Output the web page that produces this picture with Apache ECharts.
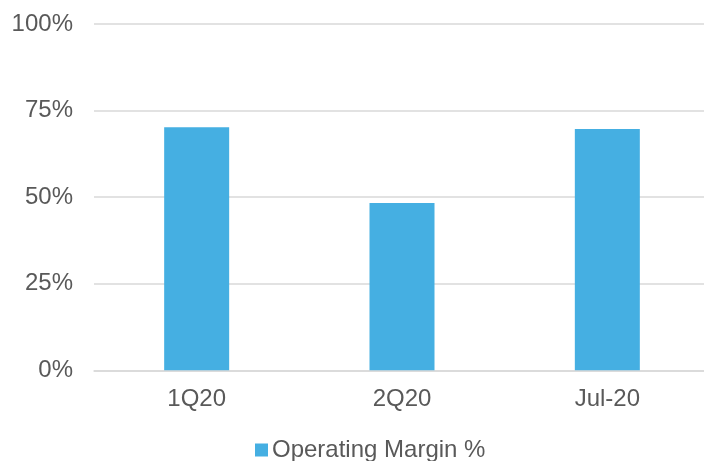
<!DOCTYPE html>
<html>
<head>
<meta charset="utf-8">
<script src="https://cdn.jsdelivr.net/npm/echarts@6/dist/echarts.min.js"></script>
<style>
  html, body { margin: 0; padding: 0; background: #fff; }
  #chart { width: 704px; height: 461px; }
</style>
</head>
<body>
<div id="chart"></div>
<script>
// Operating margin by period (%)
const categories = ['1Q20', '2Q20', 'Jul-20'];
const operatingMargin = [70.2, 48.3, 69.7];
const seriesName = 'Operating Margin %';

const textColor = '#595959';
const fontFamily = '"Liberation Sans", Arial, sans-serif';

const chart = echarts.init(document.getElementById('chart'), null, { renderer: 'canvas' });
chart.setOption({
  animation: false,
  backgroundColor: '#ffffff',
  grid: {
    left: 94, top: 24, right: -6, bottom: 90.7,
    containLabel: false,
    outerBoundsMode: 'none'
  },
  legend: {
    data: [seriesName],
    left: 250,
    top: 433,
    icon: 'rect',
    itemWidth: 13,
    itemHeight: 13,
    itemGap: 7,
    textStyle: { color: textColor, fontSize: 24, fontFamily: fontFamily, padding: [0, 0, 0, -1] }
  },
  xAxis: {
    type: 'category',
    data: categories,
    axisLine: { show: true, lineStyle: { color: '#d9d9d9', width: 1.5 } },
    axisTick: { show: false },
    axisLabel: { color: textColor, fontSize: 24, fontFamily: fontFamily, margin: 17 }
  },
  yAxis: {
    type: 'value',
    min: 0,
    max: 100,
    interval: 25,
    axisLine: { show: false },
    axisTick: { show: false },
    splitLine: { lineStyle: { color: '#d9d9d9', width: 1.5 } },
    axisLabel: {
      color: textColor, fontSize: 24, fontFamily: fontFamily, margin: 21,
      formatter: v => v + '%'
    }
  },
  series: [{
    name: seriesName,
    type: 'bar',
    data: operatingMargin,
    barWidth: 65,
    itemStyle: { color: '#45AFE2' }
  }]
});
</script>
</body>
</html>
